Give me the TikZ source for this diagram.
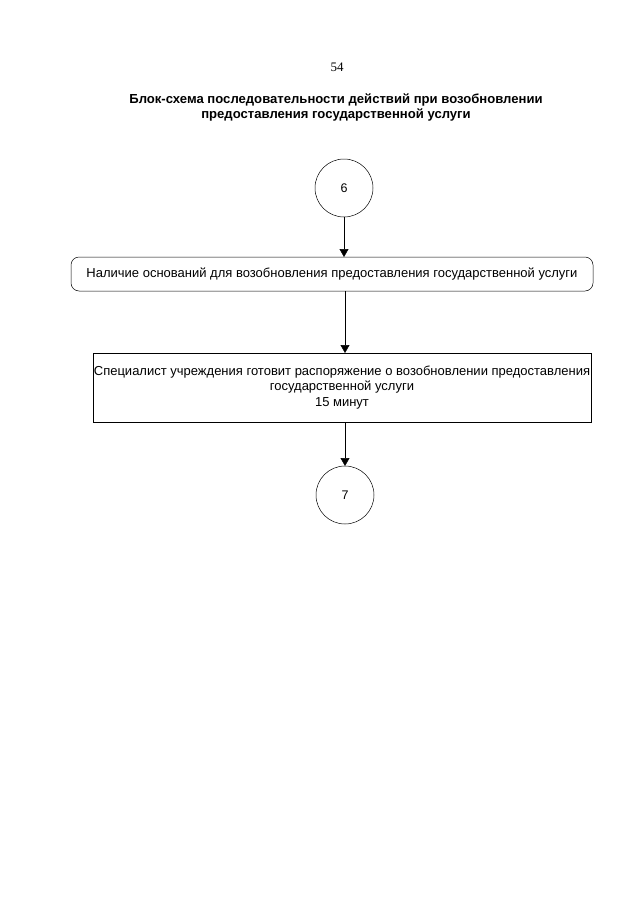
\documentclass[tikz,border=0pt]{standalone}
\usepackage{fontspec}
\setmainfont{Liberation Sans}
\newfontfamily\pagenumfont{Liberation Serif}
\usetikzlibrary{arrows.meta}
\begin{document}
\begin{tikzpicture}[x=1pt,y=-1pt,
  every node/.style={inner sep=0pt, outer sep=0pt},
  conn/.style={circle, draw, line width=0.5pt, minimum size=58pt, font=\fontsize{12.5}{14}\selectfont},
  roundbox/.style={draw, line width=0.5pt, rounded corners=8pt, minimum width=522pt, minimum height=34pt, font=\fontsize{13}{15}\selectfont},
  plainbox/.style={draw, line width=0.5pt, minimum width=498pt, minimum height=69pt, align=center, font=\fontsize{13}{15.5}\selectfont},
  flow/.style={draw, line width=0.5pt, -{Triangle[width=9pt,length=8pt]}}
]
\useasboundingbox (0,0) rectangle (640,905);
\node[font=\pagenumfont\fontsize{13}{14}\selectfont] (pagenum) at (337,67) {54};
\node[font=\bfseries\fontsize{13.1}{15}\selectfont, align=center] (title) at (336,107.5)
  {Блок-схема последовательности действий при возобновлении\\предоставления государственной услуги};
\node[conn] (c6) at (344,188) {6};
\node[roundbox] (b1) at (332,274) {Наличие оснований для возобновления предоставления государственной услуги};
\node[plainbox] (b2) at (342,387.5) {Специалист учреждения готовит распоряжение о возобновлении предоставления\\государственной услуги\\15 минут};
\node[conn] (c7) at (345,495) {7};
\draw[flow] (c6.south) -- (c6.south |- b1.north);
\draw[flow] (b1.south -| 345,0) -- (345,353);
\draw[flow] (345,422) -- (c7.north);
\end{tikzpicture}
\end{document}
